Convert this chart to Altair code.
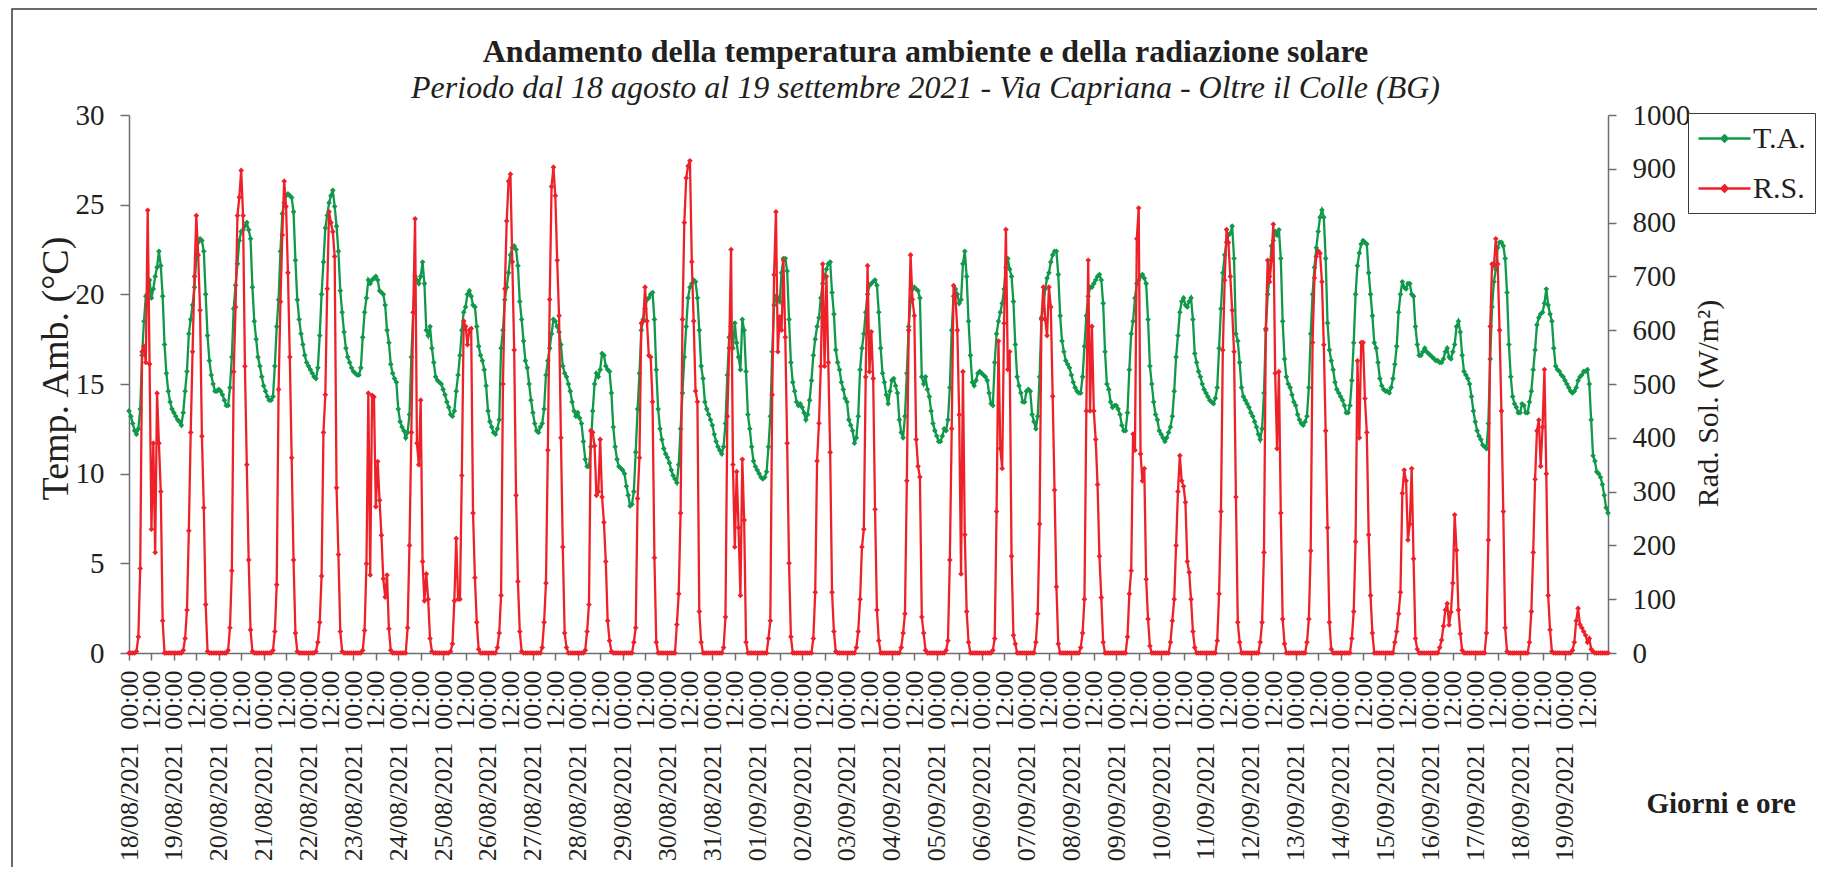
import altair as alt
import pandas as pd

# Hourly values, one list of 24 per day (18/08/2021 ... 19/09/2021)
ta_days = [
    [13.5, 13.2, 12.8, 12.4, 12.2, 12.5, 13.6, 16.6, 18.5, 19.9, 19.7, 20.8, 19.8, 20.3, 21.0, 21.5, 22.4, 21.6, 19.9, 17.2, 15.6, 14.6, 14.0, 13.6],
    [13.4, 13.2, 13.0, 12.9, 12.7, 13.4, 14.6, 15.7, 17.8, 18.6, 19.4, 20.4, 22.0, 22.9, 23.1, 23.0, 22.4, 20.0, 17.7, 16.3, 15.5, 15.0, 14.6, 14.6],
    [14.7, 14.6, 14.4, 14.1, 13.8, 13.8, 14.8, 16.5, 19.2, 20.5, 21.7, 23.0, 23.5, 23.6, 23.8, 24.0, 23.6, 23.1, 20.4, 18.5, 17.5, 16.5, 16.0, 15.4],
    [14.9, 14.6, 14.3, 14.1, 14.1, 14.3, 16.0, 18.2, 19.7, 22.4, 24.5, 25.1, 25.5, 25.6, 25.5, 25.4, 24.6, 21.9, 19.7, 18.6, 17.8, 17.2, 16.6, 16.2],
    [16.0, 15.8, 15.6, 15.4, 15.3, 15.9, 17.7, 20.0, 21.8, 23.7, 24.4, 25.1, 25.5, 25.8, 24.9, 23.8, 22.4, 20.2, 19.0, 17.9, 17.0, 16.5, 16.2, 15.9],
    [15.7, 15.6, 15.5, 15.5, 15.9, 17.6, 19.0, 19.8, 20.8, 20.6, 20.8, 20.9, 21.0, 20.8, 20.2, 20.1, 20.0, 19.4, 18.0, 17.3, 16.1, 15.6, 15.3, 15.1],
    [13.6, 12.9, 12.6, 12.4, 12.0, 12.3, 13.3, 16.5, 19.0, 21.0, 20.8, 20.6, 21.0, 21.8, 20.6, 18.0, 17.7, 18.2, 17.0, 16.2, 15.4, 15.2, 15.1, 15.0],
    [14.7, 14.4, 14.0, 13.7, 13.3, 13.2, 13.5, 14.6, 15.5, 16.6, 18.0, 19.0, 19.3, 20.0, 20.2, 19.9, 19.4, 19.3, 18.2, 17.1, 16.6, 16.3, 15.8, 14.9],
    [13.5, 12.9, 12.6, 12.3, 12.2, 12.5, 13.0, 17.0, 18.0, 19.7, 20.4, 21.2, 22.2, 22.6, 22.7, 22.5, 21.6, 19.6, 18.6, 17.4, 16.3, 15.9, 15.0, 14.1],
    [13.4, 12.8, 12.4, 12.3, 12.6, 12.8, 13.6, 15.5, 16.3, 17.0, 17.8, 18.6, 18.5, 18.2, 17.9, 17.2, 16.0, 15.6, 15.4, 15.0, 14.6, 14.0, 13.5, 13.2],
    [13.4, 13.1, 12.8, 11.8, 10.8, 10.4, 10.4, 11.5, 13.5, 15.0, 15.6, 15.4, 15.8, 16.7, 16.6, 16.0, 15.8, 15.7, 14.5, 12.6, 11.5, 10.8, 10.4, 10.3],
    [10.2, 10.0, 9.3, 8.8, 8.2, 8.3, 9.0, 11.2, 13.6, 15.6, 18.0, 18.6, 19.2, 19.7, 19.8, 20.0, 20.1, 18.6, 15.8, 13.6, 12.5, 11.9, 11.4, 11.1],
    [10.9, 10.6, 10.2, 9.9, 9.7, 9.5, 10.5, 12.5, 14.5, 16.5, 18.2, 19.8, 20.4, 20.6, 20.8, 20.7, 19.8, 18.0, 16.0, 15.3, 14.0, 13.6, 13.3, 13.0],
    [12.7, 12.2, 11.8, 11.5, 11.3, 11.1, 11.5, 12.8, 15.5, 17.6, 18.2, 17.0, 18.4, 17.3, 16.5, 15.8, 18.6, 18.0, 15.7, 13.3, 12.5, 11.5, 10.7, 10.4],
    [10.2, 10.0, 9.8, 9.7, 9.8, 10.1, 11.5, 13.2, 16.8, 19.4, 19.9, 19.8, 19.6, 21.2, 22.0, 22.0, 21.3, 18.6, 16.2, 15.1, 14.6, 14.0, 13.8, 13.9],
    [13.7, 13.4, 13.0, 13.3, 14.1, 15.2, 16.6, 17.5, 18.2, 18.7, 19.8, 20.6, 21.0, 21.4, 21.7, 21.8, 20.1, 18.9, 16.9, 16.2, 15.8, 15.1, 14.7, 14.2],
    [14.0, 13.0, 12.7, 12.4, 11.7, 12.0, 13.2, 15.8, 17.0, 17.8, 19.0, 20.0, 20.5, 20.6, 20.7, 20.8, 20.5, 19.0, 17.0, 15.6, 15.1, 14.4, 13.9, 14.6],
    [15.2, 15.3, 14.9, 14.5, 13.0, 12.3, 12.0, 13.2, 15.6, 18.2, 19.6, 20.3, 20.4, 20.3, 20.2, 19.8, 15.4, 15.0, 15.4, 14.7, 14.3, 13.5, 12.8, 12.4],
    [12.1, 11.8, 11.8, 12.1, 12.5, 12.4, 13.0, 14.8, 18.0, 19.9, 20.3, 20.0, 19.5, 19.7, 21.7, 22.4, 21.0, 18.5, 16.6, 15.1, 14.9, 15.2, 15.6, 15.7],
    [15.6, 15.5, 15.4, 15.2, 14.5, 13.9, 13.8, 16.2, 17.8, 18.5, 19.0, 19.5, 20.3, 21.5, 22.0, 21.4, 21.0, 19.6, 17.2, 15.4, 14.9, 14.5, 14.0, 14.0],
    [14.6, 14.7, 14.6, 13.3, 12.9, 12.5, 13.2, 15.4, 18.7, 19.2, 20.3, 20.9, 21.2, 21.8, 22.2, 22.4, 22.4, 21.1, 18.8, 17.4, 16.8, 16.3, 16.1, 15.9],
    [15.5, 15.1, 14.8, 14.6, 14.5, 14.5, 15.4, 17.1, 18.8, 19.9, 20.4, 20.4, 20.6, 20.8, 21.0, 21.1, 20.8, 19.5, 16.8, 15.0, 14.7, 14.0, 13.7, 13.8],
    [13.8, 13.6, 13.3, 12.7, 12.4, 12.4, 13.4, 15.8, 17.8, 18.5, 19.8, 20.6, 20.8, 21.0, 21.1, 20.9, 20.6, 18.6, 16.0, 15.0, 14.0, 13.3, 13.0, 12.4],
    [12.2, 12.0, 11.8, 12.0, 12.3, 12.6, 13.2, 14.6, 16.5, 17.7, 19.0, 19.6, 19.8, 19.4, 19.3, 19.6, 19.8, 18.6, 16.7, 16.2, 15.7, 15.4, 15.0, 14.7],
    [14.5, 14.3, 14.1, 14.0, 13.9, 14.2, 14.8, 17.0, 19.2, 21.2, 22.2, 22.9, 23.3, 23.4, 23.8, 22.0, 17.8, 17.4, 16.2, 14.8, 14.3, 14.1, 13.9, 13.7],
    [13.4, 13.2, 12.9, 12.6, 12.2, 11.9, 12.5, 14.5, 18.0, 20.0, 21.0, 22.7, 23.0, 23.5, 23.3, 23.6, 22.0, 18.5, 16.4, 15.4, 15.0, 14.8, 14.4, 14.0],
    [13.8, 13.3, 13.0, 12.8, 12.7, 12.9, 13.2, 14.8, 17.8, 20.0, 21.5, 22.6, 23.5, 24.3, 24.7, 24.3, 22.0, 18.4, 16.9, 16.3, 15.8, 15.1, 14.7, 14.5],
    [14.3, 14.1, 13.8, 13.4, 13.4, 13.8, 15.2, 17.3, 20.0, 21.6, 22.3, 22.8, 23.0, 22.9, 22.8, 21.2, 20.0, 18.8, 17.3, 17.0, 16.2, 15.3, 14.9, 14.7],
    [14.6, 14.6, 14.5, 14.8, 15.3, 16.1, 17.1, 19.0, 20.0, 20.7, 20.4, 20.3, 20.6, 20.6, 20.0, 19.9, 18.2, 17.2, 16.6, 16.6, 16.8, 17.0, 16.8, 16.7],
    [16.6, 16.5, 16.4, 16.3, 16.3, 16.2, 16.2, 16.4, 16.8, 17.0, 16.5, 16.4, 16.8, 17.2, 18.2, 18.5, 17.9, 16.6, 15.7, 15.5, 15.3, 15.0, 14.3, 13.5],
    [12.9, 12.4, 12.1, 11.9, 11.6, 11.5, 11.4, 12.8, 16.4, 19.3, 20.7, 21.4, 22.6, 22.9, 22.9, 22.7, 22.0, 20.1, 17.2, 15.4, 14.3, 13.9, 13.7, 13.4],
    [13.4, 13.9, 13.8, 13.4, 13.4, 14.0, 14.6, 15.8, 16.9, 18.3, 18.7, 18.9, 19.0, 19.5, 20.3, 19.4, 18.9, 18.5, 17.0, 16.0, 15.8, 15.7, 15.5, 15.4],
    [15.2, 15.0, 14.8, 14.6, 14.5, 14.6, 14.8, 15.2, 15.4, 15.5, 15.7, 15.7, 15.8, 15.0, 13.0, 11.0, 10.7, 10.1, 10.0, 9.8, 9.4, 8.8, 8.1, 7.8],
]

rs_days = [
    [0, 0, 0, 0, 3, 30, 157, 560, 570, 540, 823, 537, 230, 390, 187, 483, 390, 300, 60, 0, 0, 0, 0, 0],
    [0, 0, 0, 0, 0, 5, 27, 80, 227, 410, 560, 700, 813, 740, 637, 403, 270, 90, 3, 0, 0, 0, 0, 0],
    [0, 0, 0, 0, 0, 5, 47, 153, 523, 643, 813, 847, 897, 813, 533, 350, 173, 43, 3, 0, 0, 0, 0, 0],
    [0, 0, 0, 0, 0, 5, 40, 127, 490, 653, 777, 877, 830, 707, 550, 363, 173, 37, 3, 0, 0, 0, 0, 0],
    [0, 0, 0, 0, 3, 20, 57, 143, 410, 480, 677, 820, 800, 783, 737, 307, 183, 40, 3, 0, 0, 0, 0, 0],
    [0, 0, 0, 0, 0, 5, 42, 166, 483, 145, 479, 476, 272, 356, 284, 219, 138, 104, 145, 45, 5, 0, 0, 0],
    [0, 0, 0, 0, 0, 47, 200, 410, 633, 807, 390, 350, 470, 170, 97, 147, 100, 27, 3, 0, 0, 0, 0, 0],
    [0, 0, 0, 0, 3, 17, 97, 213, 100, 100, 330, 617, 607, 573, 600, 603, 260, 140, 57, 7, 0, 0, 0, 0],
    [0, 0, 0, 0, 0, 10, 37, 107, 500, 677, 803, 877, 890, 727, 563, 293, 133, 40, 3, 0, 0, 0, 0, 0],
    [0, 0, 0, 0, 0, 10, 57, 130, 377, 657, 867, 903, 850, 730, 627, 400, 197, 37, 10, 0, 0, 0, 0, 0],
    [0, 0, 0, 0, 5, 40, 90, 413, 410, 385, 293, 300, 397, 290, 243, 170, 60, 23, 3, 0, 0, 0, 0, 0],
    [0, 0, 0, 0, 0, 0, 20, 47, 287, 363, 613, 617, 680, 617, 553, 550, 467, 177, 20, 0, 0, 0, 0, 0],
    [0, 0, 0, 0, 0, 53, 110, 260, 620, 800, 883, 905, 915, 727, 617, 487, 467, 77, 20, 0, 0, 0, 0, 0],
    [0, 0, 0, 0, 0, 0, 10, 67, 440, 567, 750, 350, 197, 337, 233, 107, 360, 247, 20, 0, 0, 0, 0, 0],
    [0, 0, 0, 0, 0, 0, 27, 60, 480, 703, 820, 560, 625, 600, 730, 587, 390, 167, 30, 0, 0, 0, 0, 0],
    [0, 0, 0, 0, 0, 0, 27, 113, 357, 427, 533, 723, 533, 700, 540, 373, 113, 40, 3, 0, 0, 0, 0, 0],
    [0, 0, 0, 0, 0, 10, 40, 100, 197, 230, 513, 720, 523, 597, 510, 267, 80, 23, 0, 0, 0, 0, 0, 0],
    [0, 0, 0, 0, 0, 10, 37, 73, 320, 600, 740, 657, 627, 397, 347, 327, 67, 37, 5, 0, 0, 0, 0, 0],
    [0, 0, 0, 0, 0, 5, 23, 173, 417, 683, 663, 600, 443, 147, 523, 220, 77, 20, 0, 0, 0, 0, 0, 0],
    [0, 0, 0, 0, 0, 0, 5, 27, 263, 580, 380, 343, 613, 787, 527, 560, 180, 33, 17, 0, 0, 0, 0, 0],
    [0, 0, 0, 0, 0, 20, 73, 240, 620, 680, 620, 590, 680, 643, 477, 303, 123, 17, 0, 0, 0, 0, 0, 0],
    [0, 0, 0, 0, 0, 10, 37, 100, 450, 730, 450, 607, 450, 397, 313, 180, 103, 20, 0, 0, 0, 0, 0, 0],
    [0, 0, 0, 0, 0, 0, 30, 110, 153, 407, 377, 770, 827, 370, 320, 343, 137, 63, 13, 0, 0, 0, 0, 0],
    [0, 0, 0, 0, 0, 20, 60, 100, 200, 300, 367, 320, 310, 280, 170, 150, 100, 40, 10, 0, 0, 0, 0, 0],
    [0, 0, 0, 0, 0, 0, 23, 110, 263, 563, 693, 787, 763, 700, 637, 560, 290, 57, 20, 0, 0, 0, 0, 0],
    [0, 0, 0, 0, 0, 20, 57, 187, 603, 730, 690, 730, 797, 520, 380, 523, 260, 63, 17, 0, 0, 0, 0, 0],
    [0, 0, 0, 0, 0, 0, 20, 63, 190, 577, 697, 737, 747, 743, 690, 573, 413, 233, 57, 7, 0, 0, 0, 0],
    [0, 0, 0, 0, 0, 0, 27, 77, 207, 543, 400, 577, 577, 473, 410, 220, 107, 37, 0, 0, 0, 0, 0, 0],
    [0, 0, 0, 0, 0, 20, 40, 73, 113, 297, 340, 320, 210, 240, 343, 175, 27, 7, 0, 0, 0, 0, 0, 0],
    [0, 0, 0, 0, 0, 10, 24, 50, 80, 92, 52, 76, 130, 257, 191, 80, 36, 5, 0, 0, 0, 0, 0, 0],
    [0, 0, 0, 0, 0, 0, 37, 210, 607, 723, 720, 770, 723, 600, 450, 263, 47, 3, 0, 0, 0, 0, 0, 0],
    [0, 0, 0, 0, 0, 20, 77, 187, 323, 413, 433, 347, 420, 527, 333, 107, 43, 3, 0, 0, 0, 0, 0, 0],
    [0, 0, 0, 0, 5, 20, 60, 83, 53, 47, 40, 33, 20, 27, 7, 3, 0, 0, 0, 0, 0, 0, 0, 0],
]

series_names = ["T.A.", "R.S."]
series_colors = ["#10994a", "#ee2129"]
x_ticks = list(range(0, 781, 12))
ta_ticks = [0, 5, 10, 15, 20, 25, 30]
rs_ticks = [0, 100, 200, 300, 400, 500, 600, 700, 800, 900, 1000]

FONT = "Liberation Serif"
TXT = "#231f20"
AX = "#6d6e71"

ta_rows, rs_rows = [], []
for d, (t_day, r_day) in enumerate(zip(ta_days, rs_days)):
    for i, v in enumerate(t_day):
        ta_rows.append({"ora": d * 24 + i, "val": v, "serie": series_names[0]})
    for i, v in enumerate(r_day):
        rs_rows.append({"ora": d * 24 + i, "val": v, "serie": series_names[1]})
ta_df = pd.DataFrame(ta_rows)
rs_df = pd.DataFrame(rs_rows)

label_expr = (
    "datum.value % 24 == 0 ? timeFormat(datetime(2021, 7, 18 + datum.value / 24), '%d/%m/%Y')"
    " + '\u00a0\u00a000:00' : '12:00'"
)

x_enc = alt.X(
    "ora:Q",
    scale=alt.Scale(domain=[0, 791], nice=False, zero=False),
    axis=alt.Axis(
        values=x_ticks, labelExpr=label_expr, labelAngle=270, labelFontSize=26,
        labelOverlap=False, labelFlush=False, labelLimit=0, labelPadding=10, tickSize=7,
        grid=False, domainColor=AX, tickColor=AX, domainWidth=1.5, tickWidth=1.5,
        labelColor=TXT, labelFont=FONT,
        title="Giorni e ore", titleFont=FONT, titleFontSize=29, titleFontWeight="bold",
        titleColor=TXT, titleX=1517, titleY=159, titleAlign="left", titleBaseline="alphabetic",
        titleAngle=0,
    ),
)

# legend symbol: a line segment with a small diamond in its middle
legend_symbol = "M-1,0L2.47,0M0.735,-0.2L0.935,0L0.735,0.2L0.535,0Z"

color_enc = alt.Color(
    "serie:N",
    scale=alt.Scale(domain=series_names, range=series_colors),
    legend=alt.Legend(
        title=None, orient="none", legendX=1559, legendY=-2, direction="vertical",
        symbolType=legend_symbol, symbolSize=900, symbolStrokeWidth=2.5,
        labelFont=FONT, labelFontSize=30, labelColor=TXT, labelOffset=23,
        padding=9, rowPadding=18, strokeColor="#3a3a3a", fillColor="white",
        cornerRadius=0,
    ),
)

point_def = alt.OverlayMarkDef(shape="diamond", size=32, filled=True)

ta_layer = alt.Chart(ta_df).mark_line(strokeWidth=2.3, point=point_def).encode(
    x=x_enc,
    y=alt.Y(
        "val:Q",
        scale=alt.Scale(domain=[0, 30], nice=False),
        axis=alt.Axis(
            orient="left", values=ta_ticks, grid=False, tickSize=9, labelPadding=16,
            labelFontSize=29, labelFont=FONT, labelColor=TXT,
            domainColor=AX, tickColor=AX, domainWidth=1.5, tickWidth=1.5,
            title="Temp. Amb. (°C)", titleFont=FONT, titleFontSize=38,
            titleFontWeight="normal", titleColor=TXT, titleAngle=270,
            titleX=-73, titleY=253, titleAlign="center", titleBaseline="middle",
        ),
    ),
    color=color_enc,
)

rs_layer = alt.Chart(rs_df).mark_line(strokeWidth=2.3, point=point_def).encode(
    x=x_enc,
    y=alt.Y(
        "val:Q",
        scale=alt.Scale(domain=[0, 1000], nice=False),
        axis=alt.Axis(
            orient="right", values=rs_ticks, format="d", grid=False, tickSize=8, labelPadding=16,
            labelFontSize=29, labelFont=FONT, labelColor=TXT,
            domainColor=AX, tickColor=AX, domainWidth=1.5, tickWidth=1.5,
            title="Rad. Sol. (W/m²)", titleFont=FONT, titleFontSize=30,
            titleFontWeight="normal", titleColor=TXT, titleAngle=270,
            titleX=100, titleY=288, titleAlign="center", titleBaseline="middle",
        ),
    ),
    color=color_enc,
)

frame = alt.Chart(pd.DataFrame({"k": [0]})).mark_rect(
    filled=False, stroke="#3a3a3a", strokeWidth=1.5
).encode(
    x=alt.value(-117), x2=alt.value(1720), y=alt.value(-106), y2=alt.value(790)
)

chart = (
    alt.layer(frame, ta_layer, rs_layer)
    .resolve_scale(y="independent")
    .properties(
        width=1479,
        height=538,
        autosize=alt.AutoSizeParams(type="none"),
        padding={"left": 121, "top": 107, "right": 209, "bottom": 214},
        background="white",
        title=alt.TitleParams(
            text="Andamento della temperatura ambiente e della radiazione solare",
            subtitle="Periodo dal 18 agosto al 19 settembre 2021 - Via Capriana - Oltre il Colle (BG)",
            font=FONT, fontSize=32, fontWeight="bold", color=TXT,
            subtitleFont=FONT, subtitleFontSize=32, subtitleFontStyle="italic",
            subtitleColor=TXT, subtitlePadding=4,
            anchor="middle", frame="group", dx=57, offset=-97,
        ),
    )
    .configure(font=FONT)
    .configure_view(stroke=None)
)

chart.save("out.html", embed_options={"renderer": "svg", "actions": False})
